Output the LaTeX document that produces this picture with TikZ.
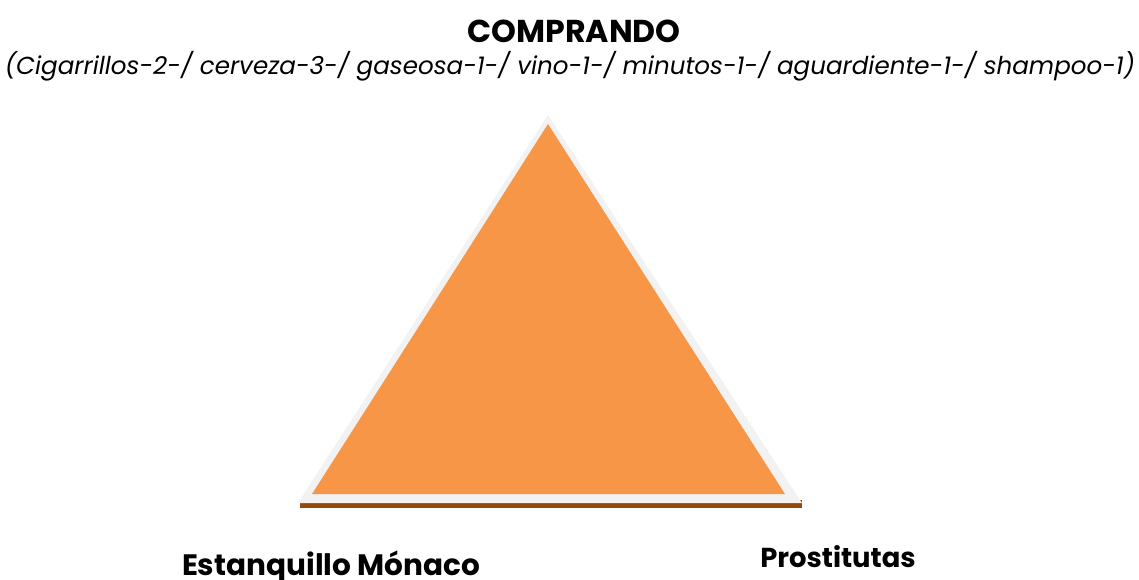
\documentclass[tikz,border=0pt]{standalone}
\usepackage{fontspec}
\setmainfont{Poppins}
\usepackage{tikz}
\definecolor{triorange}{HTML}{F79646}
\definecolor{trigray}{HTML}{F2F2F2}
\definecolor{tribrown}{HTML}{984807}
\tikzset{rotulo/.style={inner sep=0pt,anchor=base}}

\begin{document}
\begin{tikzpicture}[x=0.02cm,y=-0.02cm]
    \useasboundingbox (0,0) rectangle (1139,579);
    \fill [tribrown](300,500) rectangle (802,508);
    \fill [trigray](548,115)--(298,503)--(802,503)--cycle;
    \fill [triorange](548,124)--(312,494)--(785,494)--cycle;
    \node [rotulo](titulo) at (574,42) {\fontsize{18}{20}\selectfont\bfseries COMPRANDO};
    \node [rotulo](lista) at (570,74) {\fontsize{14}{16}\selectfont\itshape (Cigarrillos-2-/ cerveza-3-/ gaseosa-1-/ vino-1-/ minutos-1-/ aguardiente-1-/ shampoo-1)};
    \node [rotulo](tienda) at (331,575) {\fontsize{16.8}{18}\selectfont\bfseries Estanquillo Mónaco};
    \node [rotulo](prost) at (838,567) {\fontsize{15.6}{18}\selectfont\bfseries Prostitutas};
\end{tikzpicture}
\end{document}
